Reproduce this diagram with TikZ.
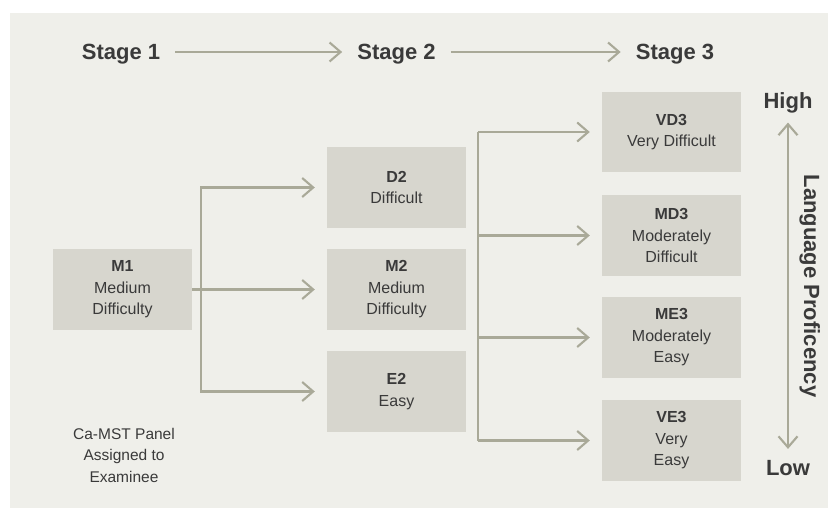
\documentclass[tikz,border=0pt]{standalone}
\usepackage{fontspec}
\setmainfont{Liberation Sans}
\usetikzlibrary{arrows.meta}
\definecolor{bgc}{HTML}{EFEFEA}
\definecolor{boxc}{HTML}{D7D6CE}
\definecolor{linec}{HTML}{A9A998}
\definecolor{txt}{HTML}{3A3A3A}
\begin{document}
\begin{tikzpicture}[x=1pt,y=-1pt,
  box/.style={fill=boxc, minimum width=139pt, minimum height=81pt, inner sep=0pt,
    align=center, text=txt, font=\fontsize{16}{21.5}\selectfont},
  hdr/.style={font=\fontsize{22}{24}\selectfont\bfseries, text=txt, inner sep=0pt,
    text height=15.75pt, text depth=0pt},
  conn/.style={draw=linec, line width=2.1pt},
  barb/.tip={Straight Barb[length=11pt,width=19pt]},
  arr/.style={conn, -barb, shorten >=12pt}]
\useasboundingbox (0,0) rectangle (828,508);
\fill[bgc] (10,13) rectangle (828,508);

% headers
\node[hdr] (S1) at (121,52) {Stage 1};
\node[hdr] (S2) at (396.5,52) {Stage 2};
\node[hdr] (S3) at (675,52) {Stage 3};
\draw[conn, -barb, shorten <=15pt, shorten >=15pt] (S1) -- (S2);
\draw[conn, -barb, shorten <=15pt, shorten >=15pt] (S2) -- (S3);

% boxes
\node[box] (M1) at (122.5,289.5) {\textbf{M1}\\Medium\\Difficulty};
\node[box] (D2) at (396.5,187.5) {\textbf{D2}\\Difficult};
\node[box] (M2) at (396.5,289.5) {\textbf{M2}\\Medium\\Difficulty};
\node[box] (E2) at (396.5,391.5) {\textbf{E2}\\Easy};
\node[box, minimum height=80pt] (VD3) at (671.5,132) {\textbf{VD3}\\Very Difficult};
\node[box] (MD3) at (671.5,235.5) {\textbf{MD3}\\Moderately\\Difficult};
\node[box] (ME3) at (671.5,337.5) {\textbf{ME3}\\Moderately\\Easy};
\node[box] (VE3) at (671.5,440.5) {\textbf{VE3}\\Very\\Easy};

% stage 1 -> stage 2
\coordinate (j1) at (201,289.5);
\draw[conn] (M1) -- (j1);
\draw[arr] (j1) |- (D2);
\draw[arr] (j1) -- (M2);
\draw[arr] (j1) |- (E2);

% stage 2 -> stage 3
\coordinate (j2t) at (478,132);
\coordinate (j2b) at (478,440.5);
\draw[conn] (j2t) -- (j2b);
\draw[arr] (j2t) -- (VD3);
\draw[arr] (j2t |- MD3) -- (MD3);
\draw[arr] (j2t |- ME3) -- (ME3);
\draw[arr] (j2b) -- (VE3);

% note
\node[text=txt, align=center, inner sep=0pt, font=\fontsize{15.5}{21.5}\selectfont]
  (note) at (124,455) {Ca-MST Panel\\Assigned to\\Examinee};

% proficiency scale
\node[hdr] (hi) at (788,100.5) {High};
\node[hdr] (lo) at (788,468) {Low};
\draw[conn, barb-barb, shorten <=14pt, shorten >=11pt] (hi) -- (lo);
\node[hdr, rotate=-90] (lp) at (812,286) {Language Proficency};
\end{tikzpicture}
\end{document}
